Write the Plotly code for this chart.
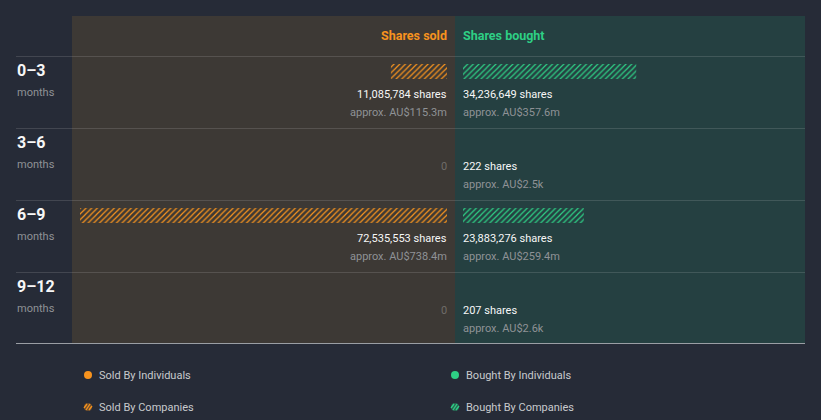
import plotly.graph_objects as go

# ---- data ----
periods = ["0–3", "3–6", "6–9", "9–12"]
period_unit = "months"
sold_shares = [11085784, 0, 72535553, 0]
sold_value = ["approx. AU$115.3m", "", "approx. AU$738.4m", ""]
bought_shares = [34236649, 222, 23883276, 207]
bought_value = ["approx. AU$357.6m", "approx. AU$2.5k", "approx. AU$259.4m", "approx. AU$2.6k"]
legend_labels = ["Sold By Individuals", "Bought By Individuals", "Sold By Companies", "Bought By Companies"]

W, H = 821, 420
BG = "#262b37"
SOLD_BG = "#3d3935"
BOUGHT_BG = "#254041"
ORANGE = "#f7931e"
GREEN = "#2ecf85"
WHITE = "#f7f7f7"
GREY = "#8f9296"
FONT = "Roboto"

# scale: shares per pixel
max_shares = max(max(sold_shares), max(bought_shares))
s = max_shares / 367.0
center_px = 455
gap = 8 * s
x_range = [-center_px * s, (W - center_px) * s]

row_h = 72.0
bar_c0 = 71.5
y_of = lambda p: (p - bar_c0) / row_h  # pixel -> y units
y_range = [y_of(H), y_of(0)]

px = lambda p: p / W
py = lambda p: 1 - p / H

rows = list(range(len(periods)))

fig = go.Figure()
fig.add_trace(go.Bar(
    y=rows, x=[-v for v in sold_shares], base=-gap, orientation="h", width=15 / row_h,
    marker=dict(color=ORANGE, line=dict(width=0),
                pattern=dict(shape="/", size=4, solidity=0.3, fillmode="replace")),
    hoverinfo="skip", showlegend=False))
fig.add_trace(go.Bar(
    y=rows, x=bought_shares, base=gap, orientation="h", width=15 / row_h,
    marker=dict(color=GREEN, line=dict(width=0),
                pattern=dict(shape="/", size=4, solidity=0.3, fillmode="replace")),
    hoverinfo="skip", showlegend=False))

shapes = []
# panels
shapes.append(dict(type="rect", xref="paper", yref="paper", x0=px(72), x1=px(455), y0=py(343), y1=py(16),
                   fillcolor=SOLD_BG, line=dict(width=0), layer="below"))
shapes.append(dict(type="rect", xref="paper", yref="paper", x0=px(455), x1=px(805), y0=py(343), y1=py(16),
                   fillcolor=BOUGHT_BG, line=dict(width=0), layer="below"))
# row separators
for yp in [56.5, 128.5, 200.5, 272.5]:
    shapes.append(dict(type="line", xref="paper", yref="paper", x0=px(16), x1=px(805), y0=py(yp), y1=py(yp),
                       line=dict(color="rgba(255,255,255,0.13)", width=1), layer="below"))
shapes.append(dict(type="line", xref="paper", yref="paper", x0=px(16), x1=px(805), y0=py(343.5), y1=py(343.5),
                   line=dict(color="#9a9ea4", width=1)))

ann = []
ann.append(dict(x=-gap, y=py(35), xref="x", yref="paper", text="<b>Shares sold</b>", showarrow=False,
                xanchor="right", yanchor="middle", xshift=2, font=dict(color=ORANGE, size=12.5, family=FONT)))
ann.append(dict(x=gap, y=py(35), xref="x", yref="paper", text="<b>Shares bought</b>", showarrow=False,
                xanchor="left", yanchor="middle", xshift=-2, font=dict(color=GREEN, size=12.5, family=FONT)))

for i in rows:
    ann.append(dict(x=px(15), y=i + (70 - bar_c0) / row_h, xref="paper", yref="y",
                    text="<b>%s</b>" % periods[i], showarrow=False, xanchor="left", yanchor="middle",
                    font=dict(color=WHITE, size=16, family=FONT)))
    ann.append(dict(x=px(15), y=i + (92 - bar_c0) / row_h, xref="paper", yref="y",
                    text=period_unit, showarrow=False, xanchor="left", yanchor="middle",
                    font=dict(color=GREY, size=11, family=FONT)))
    # sold text
    if sold_shares[i] > 0:
        ann.append(dict(x=-gap, y=i + (94 - bar_c0) / row_h, xref="x", yref="y", xshift=2,
                        text="{:,} shares".format(sold_shares[i]), showarrow=False, xanchor="right",
                        yanchor="middle", font=dict(color=WHITE, size=11, family=FONT)))
        ann.append(dict(x=-gap, y=i + (112 - bar_c0) / row_h, xref="x", yref="y", xshift=2,
                        text=sold_value[i], showarrow=False, xanchor="right",
                        yanchor="middle", font=dict(color=GREY, size=11, family=FONT)))
    else:
        ann.append(dict(x=-gap, y=i + (94 - bar_c0) / row_h, xref="x", yref="y", xshift=2,
                        text="0", showarrow=False, xanchor="right",
                        yanchor="middle", font=dict(color="#6f6c69", size=11, family=FONT)))
    ann.append(dict(x=gap, y=i + (94 - bar_c0) / row_h, xref="x", yref="y", xshift=-2,
                    text="{:,} shares".format(bought_shares[i]), showarrow=False, xanchor="left",
                    yanchor="middle", font=dict(color=WHITE, size=11, family=FONT)))
    ann.append(dict(x=gap, y=i + (112 - bar_c0) / row_h, xref="x", yref="y", xshift=-2,
                    text=bought_value[i], showarrow=False, xanchor="left",
                    yanchor="middle", font=dict(color=GREY, size=11, family=FONT)))

# legend
leg_pos = [(88, 375), (455, 375), (88, 407), (455, 407)]
leg_col = [ORANGE, GREEN, ORANGE, GREEN]
for k, (lx, ly) in enumerate(leg_pos):
    if k < 2:
        shapes.append(dict(type="circle", xref="paper", yref="paper", x0=px(lx - 4), x1=px(lx + 4),
                           y0=py(ly + 4), y1=py(ly - 4), fillcolor=leg_col[k], line=dict(width=0)))
    else:
        shapes.append(dict(type="circle", xref="paper", yref="paper", x0=px(lx - 4), x1=px(lx + 4),
                           y0=py(ly + 4), y1=py(ly - 4), fillcolor=leg_col[k], opacity=0.35,
                           line=dict(width=0)))
        for (a0, b0, a1, b1) in [(-4, 1, -1, -3), (-2, 3, 2, -3), (1, 3, 4, -1)]:
            shapes.append(dict(type="line", xref="paper", yref="paper",
                               x0=px(lx + a0), y0=py(ly + b0), x1=px(lx + a1), y1=py(ly + b1),
                               line=dict(color=leg_col[k], width=1.3)))
    ann.append(dict(x=px(lx + 9), y=py(ly), xref="paper", yref="paper", text=legend_labels[k],
                    showarrow=False, xanchor="left", yanchor="middle",
                    font=dict(color="#c8cacd", size=11, family=FONT)))

fig.update_layout(
    width=W, height=H, autosize=False,
    margin=dict(l=0, r=0, t=0, b=0),
    paper_bgcolor=BG, plot_bgcolor="rgba(0,0,0,0)",
    barmode="overlay",
    xaxis=dict(range=x_range, visible=False, fixedrange=True),
    yaxis=dict(range=y_range, visible=False, fixedrange=True),
    shapes=shapes, annotations=ann, showlegend=False,
)
fig.write_html("out.html", config={"displayModeBar": False},
               post_script="document.body.style.margin='0';document.body.style.padding='0';document.body.style.overflow='hidden';")
